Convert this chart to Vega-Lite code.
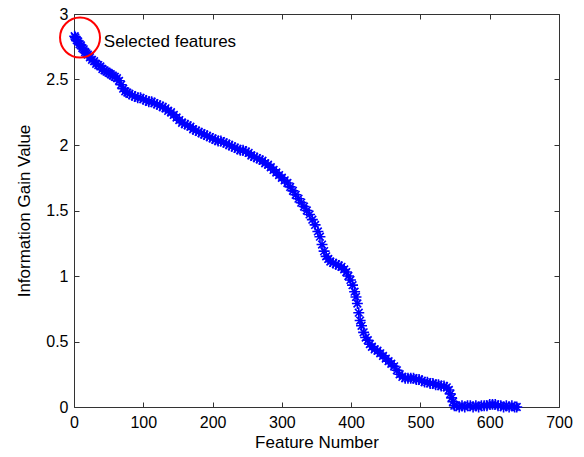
{
  "$schema": "https://vega.github.io/schema/vega-lite/v6.json",
  "autosize": "none",
  "width": 485,
  "height": 393,
  "padding": {"left": 74, "top": 14, "right": 25, "bottom": 50},
  "background": "white",
  "config": {
    "view": {"stroke": null},
    "font": "Liberation Sans",
    "axis": {
      "grid": false,
      "domainColor": "#333333",
      "tickColor": "#333333",
      "tickSize": -5,
      "labelPadding": 12,
      "labelFlush": false,
      "labelOverlap": false,
      "labelFont": "Liberation Sans",
      "labelFontSize": 16,
      "labelColor": "#000000",
      "titleFont": "Liberation Sans",
      "titleFontSize": 17,
      "titleFontWeight": "normal",
      "titleColor": "#000000"
    }
  },
  "datasets": {
    "curve": [
      {"feature": 1, "gain": 2.83}, {"feature": 2, "gain": 2.82}, {"feature": 4, "gain": 2.8}, {"feature": 6, "gain": 2.79},
      {"feature": 8, "gain": 2.77}, {"feature": 10, "gain": 2.76}, {"feature": 12, "gain": 2.74}, {"feature": 14, "gain": 2.73},
      {"feature": 16, "gain": 2.71}, {"feature": 18, "gain": 2.7}, {"feature": 20, "gain": 2.69}, {"feature": 23, "gain": 2.67},
      {"feature": 26, "gain": 2.65}, {"feature": 29, "gain": 2.64}, {"feature": 32, "gain": 2.62}, {"feature": 35, "gain": 2.61},
      {"feature": 38, "gain": 2.6}, {"feature": 41, "gain": 2.58}, {"feature": 44, "gain": 2.57}, {"feature": 47, "gain": 2.56},
      {"feature": 50, "gain": 2.55}, {"feature": 53, "gain": 2.54}, {"feature": 56, "gain": 2.53}, {"feature": 59, "gain": 2.52},
      {"feature": 62, "gain": 2.51}, {"feature": 65, "gain": 2.49}, {"feature": 68, "gain": 2.46}, {"feature": 71, "gain": 2.43},
      {"feature": 74, "gain": 2.41}, {"feature": 77, "gain": 2.4}, {"feature": 80, "gain": 2.39}, {"feature": 84, "gain": 2.38},
      {"feature": 88, "gain": 2.37}, {"feature": 92, "gain": 2.36}, {"feature": 96, "gain": 2.36}, {"feature": 100, "gain": 2.35},
      {"feature": 104, "gain": 2.34}, {"feature": 108, "gain": 2.33}, {"feature": 112, "gain": 2.33}, {"feature": 116, "gain": 2.32},
      {"feature": 120, "gain": 2.31}, {"feature": 124, "gain": 2.3}, {"feature": 128, "gain": 2.29}, {"feature": 132, "gain": 2.28},
      {"feature": 136, "gain": 2.26}, {"feature": 140, "gain": 2.25}, {"feature": 144, "gain": 2.23}, {"feature": 148, "gain": 2.21},
      {"feature": 152, "gain": 2.19}, {"feature": 156, "gain": 2.17}, {"feature": 160, "gain": 2.16}, {"feature": 164, "gain": 2.15},
      {"feature": 168, "gain": 2.14}, {"feature": 172, "gain": 2.12}, {"feature": 176, "gain": 2.11}, {"feature": 180, "gain": 2.1},
      {"feature": 184, "gain": 2.09}, {"feature": 188, "gain": 2.08}, {"feature": 192, "gain": 2.07}, {"feature": 196, "gain": 2.06},
      {"feature": 200, "gain": 2.05}, {"feature": 204, "gain": 2.04}, {"feature": 208, "gain": 2.03}, {"feature": 212, "gain": 2.03},
      {"feature": 216, "gain": 2.02}, {"feature": 220, "gain": 2.01}, {"feature": 224, "gain": 2.0}, {"feature": 228, "gain": 1.99},
      {"feature": 232, "gain": 1.98}, {"feature": 236, "gain": 1.97}, {"feature": 240, "gain": 1.96}, {"feature": 244, "gain": 1.96},
      {"feature": 248, "gain": 1.95}, {"feature": 252, "gain": 1.94}, {"feature": 256, "gain": 1.92}, {"feature": 260, "gain": 1.91},
      {"feature": 264, "gain": 1.9}, {"feature": 268, "gain": 1.89}, {"feature": 272, "gain": 1.88}, {"feature": 276, "gain": 1.86},
      {"feature": 280, "gain": 1.85}, {"feature": 284, "gain": 1.83}, {"feature": 288, "gain": 1.81}, {"feature": 292, "gain": 1.79},
      {"feature": 296, "gain": 1.77}, {"feature": 300, "gain": 1.75}, {"feature": 304, "gain": 1.73}, {"feature": 308, "gain": 1.71},
      {"feature": 312, "gain": 1.68}, {"feature": 316, "gain": 1.65}, {"feature": 320, "gain": 1.62}, {"feature": 324, "gain": 1.59},
      {"feature": 328, "gain": 1.56}, {"feature": 332, "gain": 1.53}, {"feature": 336, "gain": 1.5}, {"feature": 340, "gain": 1.47},
      {"feature": 344, "gain": 1.43}, {"feature": 348, "gain": 1.39}, {"feature": 352, "gain": 1.34}, {"feature": 355, "gain": 1.3},
      {"feature": 358, "gain": 1.24}, {"feature": 361, "gain": 1.19}, {"feature": 364, "gain": 1.15}, {"feature": 367, "gain": 1.13},
      {"feature": 370, "gain": 1.11}, {"feature": 374, "gain": 1.1}, {"feature": 378, "gain": 1.09}, {"feature": 382, "gain": 1.08},
      {"feature": 386, "gain": 1.07}, {"feature": 390, "gain": 1.05}, {"feature": 393, "gain": 1.03}, {"feature": 396, "gain": 1.0},
      {"feature": 399, "gain": 0.97}, {"feature": 402, "gain": 0.93}, {"feature": 405, "gain": 0.88}, {"feature": 407, "gain": 0.84},
      {"feature": 409, "gain": 0.79}, {"feature": 411, "gain": 0.72}, {"feature": 413, "gain": 0.66}, {"feature": 415, "gain": 0.62},
      {"feature": 418, "gain": 0.57}, {"feature": 421, "gain": 0.53}, {"feature": 424, "gain": 0.51}, {"feature": 427, "gain": 0.48},
      {"feature": 430, "gain": 0.46}, {"feature": 434, "gain": 0.44}, {"feature": 438, "gain": 0.43}, {"feature": 442, "gain": 0.41},
      {"feature": 446, "gain": 0.39}, {"feature": 450, "gain": 0.37}, {"feature": 454, "gain": 0.35}, {"feature": 458, "gain": 0.33},
      {"feature": 462, "gain": 0.31}, {"feature": 466, "gain": 0.28}, {"feature": 470, "gain": 0.25}, {"feature": 474, "gain": 0.23},
      {"feature": 478, "gain": 0.22}, {"feature": 482, "gain": 0.22}, {"feature": 486, "gain": 0.22}, {"feature": 490, "gain": 0.22},
      {"feature": 494, "gain": 0.21}, {"feature": 498, "gain": 0.21}, {"feature": 502, "gain": 0.2}, {"feature": 506, "gain": 0.19},
      {"feature": 510, "gain": 0.19}, {"feature": 514, "gain": 0.18}, {"feature": 518, "gain": 0.18}, {"feature": 522, "gain": 0.17},
      {"feature": 526, "gain": 0.17}, {"feature": 530, "gain": 0.16}, {"feature": 534, "gain": 0.16}, {"feature": 538, "gain": 0.15},
      {"feature": 541, "gain": 0.13}, {"feature": 543, "gain": 0.1}, {"feature": 545, "gain": 0.07}, {"feature": 547, "gain": 0.04},
      {"feature": 549, "gain": 0.01}, {"feature": 552, "gain": 0.01}, {"feature": 556, "gain": 0.0}, {"feature": 560, "gain": 0.01},
      {"feature": 564, "gain": 0.0}, {"feature": 568, "gain": 0.01}, {"feature": 572, "gain": 0.01}, {"feature": 576, "gain": 0.0},
      {"feature": 580, "gain": 0.01}, {"feature": 584, "gain": 0.0}, {"feature": 588, "gain": 0.01}, {"feature": 592, "gain": 0.01},
      {"feature": 596, "gain": 0.01}, {"feature": 600, "gain": 0.02}, {"feature": 604, "gain": 0.02}, {"feature": 608, "gain": 0.02},
      {"feature": 612, "gain": 0.01}, {"feature": 616, "gain": 0.01}, {"feature": 620, "gain": 0.0}, {"feature": 624, "gain": 0.01},
      {"feature": 628, "gain": 0.0}, {"feature": 632, "gain": 0.01}, {"feature": 636, "gain": 0.0}, {"feature": 639, "gain": 0.0}
    ],
    "note": [
      {"feature": 8.7, "gain": 2.82, "label": "Selected features", "labelX": 43, "labelY": 2.79}
    ]
  },
  "resolve": {"axis": {"x": "independent", "y": "independent"}},
  "layer": [
    {
      "data": {"name": "curve"},
      "mark": {
        "type": "point",
        "shape": "M-1,0L1,0M0,-1L0,1M-0.7,-0.7L0.7,0.7M-0.7,0.7L0.7,-0.7",
        "filled": false,
        "stroke": "#0000ff",
        "strokeWidth": 1.6,
        "opacity": 1,
        "size": 120
      },
      "encoding": {
        "x": {
          "field": "feature", "type": "quantitative",
          "scale": {"domain": [0, 700], "nice": false, "zero": false},
          "axis": {"orient": "bottom", "values": [0, 100, 200, 300, 400, 500, 600, 700], "title": "Feature Number", "titlePadding": 4}
        },
        "y": {
          "field": "gain", "type": "quantitative",
          "scale": {"domain": [0, 3], "nice": false},
          "axis": {"orient": "left", "values": [0, 0.5, 1, 1.5, 2, 2.5, 3], "format": "~g", "title": "Information Gain Value", "titlePadding": 12, "labelPadding": 11}
        }
      }
    },
    {
      "data": {"name": "note"},
      "mark": {"type": "point", "shape": "circle", "filled": false, "stroke": "#ff0000", "strokeWidth": 2, "opacity": 1, "size": 1600},
      "encoding": {
        "x": {
          "field": "feature", "type": "quantitative",
          "scale": {"domain": [0, 700], "nice": false, "zero": false},
          "axis": {"orient": "top", "values": [0, 100, 200, 300, 400, 500, 600, 700], "labels": false, "title": null}
        },
        "y": {
          "field": "gain", "type": "quantitative",
          "scale": {"domain": [0, 3], "nice": false},
          "axis": {"orient": "right", "values": [0, 0.5, 1, 1.5, 2, 2.5, 3], "labels": false, "title": null}
        }
      }
    },
    {
      "data": {"name": "note"},
      "mark": {"type": "text", "align": "left", "baseline": "middle", "fontSize": 17, "font": "Liberation Sans", "color": "#000000"},
      "encoding": {
        "x": {"field": "labelX", "type": "quantitative", "axis": null},
        "y": {"field": "labelY", "type": "quantitative", "axis": null},
        "text": {"field": "label"}
      }
    }
  ]
}
